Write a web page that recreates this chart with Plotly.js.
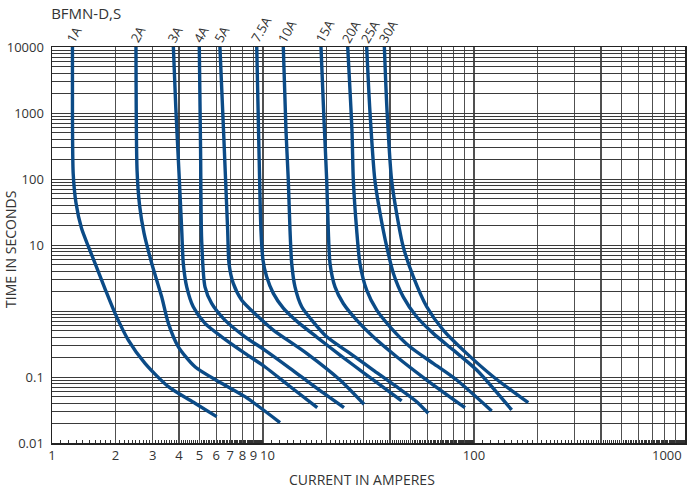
<!DOCTYPE html>
<html><head><meta charset="utf-8">
<script src="https://cdn.plot.ly/plotly-3.0.1.min.js"></script>
<style>html,body{margin:0;padding:0;background:#fff;} #chart{width:691px;height:491px;}</style>
</head><body><div id="chart"></div>
<script>
// Fuse ratings
const fuseNames = ['1A','2A','3A','4A','5A','7.5A','10A','15A','20A','25A','30A'];

// Current (A) and time (s), per fuse
const amps1A  = [1.25, 1.25, 1.26, 1.30, 1.38, 1.49, 1.60, 1.78, 1.99, 2.30, 2.76, 3.56, 4.76, 6.03];
const secs1A  = [10000, 1094, 122, 42.9, 17.9, 9.36, 5.25, 2.20, 0.92, 0.363, 0.161, 0.0713, 0.040, 0.0251];
const amps2A  = [2.50, 2.53, 2.60, 2.73, 2.97, 3.31, 3.56, 3.97, 4.76, 6.37, 8.22, 12.04];
const secs2A  = [10000, 135, 40, 15.1, 5.25, 1.64, 0.649, 0.287, 0.143, 0.0803, 0.0503, 0.0204];
const amps3A  = [3.76, 3.86, 4.00, 4.12, 4.19, 4.35, 4.67, 5.31, 6.37, 8.22, 10.2, 13.43, 18.08];
const secs3A  = [10000, 1228, 121, 16.7, 5.25, 2.32, 1.16, 0.649, 0.407, 0.228, 0.143, 0.0718, 0.0343];
const amps4A  = [4.99, 5.06, 5.12, 5.31, 5.71, 6.60, 8.22, 10.2, 13.43, 18.03, 24.2];
const secs4A  = [10000, 272, 11.8, 2.32, 1.30, 0.728, 0.407, 0.256, 0.1355, 0.067, 0.0343];
const amps5A  = [6.25, 6.53, 6.80, 6.90, 7.23, 7.93, 9.50, 11.19, 16.11, 23.17, 30.1];
const secs5A  = [10000, 385, 16.7, 5.25, 2.62, 1.46, 0.817, 0.514, 0.228, 0.090, 0.0386];
const amps7_5A = [9.34, 9.57, 9.78, 10.0, 10.41, 11.19, 12.48, 14.45, 17.97, 23.17, 31.0, 38.6, 45.4];
const secs7_5A = [10000, 272, 16.7, 5.89, 3.29, 1.85, 1.106, 0.703, 0.403, 0.215, 0.107, 0.0636, 0.0433];
const amps10A = [12.48, 12.85, 13.18, 13.43, 13.68, 14.18, 15.26, 17.02, 20.04, 25.85, 33.3, 43.0, 53.5, 60.7];
const secs10A = [10000, 545, 95.6, 16.7, 5.25, 2.32, 1.16, 0.728, 0.407, 0.228, 0.1276, 0.0713, 0.0423, 0.0282];
const amps15A = [18.83, 19.46, 20.04, 20.39, 20.78, 21.94, 24.02, 27.8, 33.3, 43.0, 59.7, 90.6];
const secs15A = [10000, 773, 95.6, 16.7, 5.25, 2.32, 1.30, 0.728, 0.407, 0.203, 0.090, 0.0343];
const amps20A = [25.2, 26.4, 26.8, 27.8, 28.8, 31.0, 34.6, 40.0, 49.7, 64.1, 82.8, 121.3];
const secs20A = [10000, 545, 95.6, 16.7, 5.25, 2.07, 1.03, 0.577, 0.287, 0.161, 0.090, 0.0306];
const amps25A = [31.0, 32.1, 33.9, 35.9, 38.6, 41.5, 46.2, 53.5, 64.1, 79.8, 103.0, 150.9];
const secs25A = [10000, 1094, 95.6, 30.0, 9.36, 3.71, 1.64, 0.817, 0.458, 0.256, 0.1276, 0.0317];
const amps30A = [37.6, 38.7, 40.7, 43.0, 46.2, 51.6, 59.7, 71.5, 92.3, 123.4, 180.8];
const secs30A = [10000, 1094, 95.6, 30.0, 9.36, 3.29, 1.16, 0.514, 0.228, 0.101, 0.0408];

// Axis tick labels ("10" and "1000" are placed as annotations, slightly offset as in the reference)
const xTickLabels = ['1','2','3','4','5','6','7','8','9','100'];
const yTickLabels = ['0.01','0.1','10','100','1000','10000'];

const curves = [
  [amps1A, secs1A], [amps2A, secs2A], [amps3A, secs3A], [amps4A, secs4A], [amps5A, secs5A],
  [amps7_5A, secs7_5A], [amps10A, secs10A], [amps15A, secs15A], [amps20A, secs20A],
  [amps25A, secs25A], [amps30A, secs30A]
];

const lineColor = '#0b4b87';
const traces = curves.map((c, i) => ({
  type: 'scatter', mode: 'lines', name: fuseNames[i],
  x: c[0], y: c[1],
  line: {color: lineColor, width: 3.4, shape: 'spline', smoothing: 0.7},
  hoverinfo: 'skip', showlegend: false
}));

// grid positions (1..9 per decade)
const xGrid = [], xText = [];
for (let d = 0; d < 3; d++) for (let m = 1; m <= 9; m++) {
  const v = m * Math.pow(10, d); xGrid.push(v);
  const s = String(v);
  xText.push(xTickLabels.includes(s) ? s : '');
}
xGrid.push(1000); xText.push('');
const yGrid = [], yText = [];
for (let d = -2; d < 4; d++) for (let m = 1; m <= 9; m++) {
  const v = +(m * Math.pow(10, d)).toPrecision(6); yGrid.push(v);
  const s = String(v); yText.push(yTickLabels.includes(s) ? s : '');
}
yGrid.push(10000); yText.push('10000');

const minorX = [];
for (let d = 0; d < 3; d++) for (let k = 11; k < 100; k++) {
  if (k % 10 !== 0) minorX.push(+(k / 10 * Math.pow(10, d)).toPrecision(6));
}

const font = {family: 'Open Sans, sans-serif', color: '#333'};
// approximate text length (px) of rotated labels, to place them
const charW = ch => (ch === '.' ? 0.27 : ch === 'A' ? 0.64 : 0.572) * 13;
const annotations = curves.map((c, i) => {
  const L = fuseNames[i].split('').reduce((a, ch) => a + charW(ch), 0);
  return {
    xref: 'x', yref: 'paper', x: Math.log10(c[0][0]),
    y: (443 - (41 - 0.433 * L)) / 396,
    xanchor: 'center', yanchor: 'middle', xshift: -2 + L / 4,
    text: fuseNames[i], textangle: -60, showarrow: false,
    font: Object.assign({}, font, {size: 13})
  };
});
annotations.push({xref: 'x', yref: 'paper', x: 1, xshift: 4, y: -0.003, xanchor: 'center', yanchor: 'top',
  text: '10', showarrow: false, font: Object.assign({}, font, {size: 13})});
annotations.push({xref: 'paper', yref: 'paper', x: 0.9716, y: -0.003, xanchor: 'center', yanchor: 'top',
  text: '1000', showarrow: false, font: Object.assign({}, font, {size: 13})});
annotations.push({xref: 'paper', yref: 'paper', x: 0.49, y: -0.062, xanchor: 'center', yanchor: 'top',
  text: 'CURRENT IN AMPERES', showarrow: false, font: Object.assign({}, font, {size: 14})});
annotations.push({xref: 'paper', yref: 'paper', x: -0.083, y: 0.49, xanchor: 'left', yanchor: 'middle',
  text: 'TIME IN SECONDS', textangle: -90, showarrow: false, font: Object.assign({}, font, {size: 14})});

const layout = {
  width: 691, height: 491,
  margin: {l: 52, r: 6, t: 47, b: 48},
  paper_bgcolor: '#fff', plot_bgcolor: '#fff',
  font: font,
  title: {text: 'BFMN-D,S', x: 0.074, xanchor: 'left', y: 0.972, yanchor: 'middle',
          font: Object.assign({}, font, {size: 15})},
  xaxis: {type: 'log', range: [0, 3], tickmode: 'array', tickvals: xGrid, ticktext: xText,
          showgrid: true, gridcolor: '#505050', gridwidth: 1.1, zeroline: false,
          showline: true, linecolor: '#222', linewidth: 1.5, mirror: true,
          ticks: '', tickangle: 0, tickfont: {size: 13, color: '#333'},
          minor: {tickvals: minorX, ticks: 'inside', ticklen: 3, tickcolor: '#333', showgrid: false}},
  yaxis: {type: 'log', range: [-2, 4], tickmode: 'array', tickvals: yGrid, ticktext: yText,
          showgrid: true, gridcolor: '#3a3a3a', gridwidth: 1, zeroline: false,
          showline: true, linecolor: '#222', linewidth: 1.5, mirror: true,
          ticks: '', ticklabelstandoff: 4, tickfont: {size: 13, color: '#333'}},
  annotations: annotations
};

Plotly.newPlot('chart', traces, layout, {staticPlot: true, displayModeBar: false});
</script></body></html>
